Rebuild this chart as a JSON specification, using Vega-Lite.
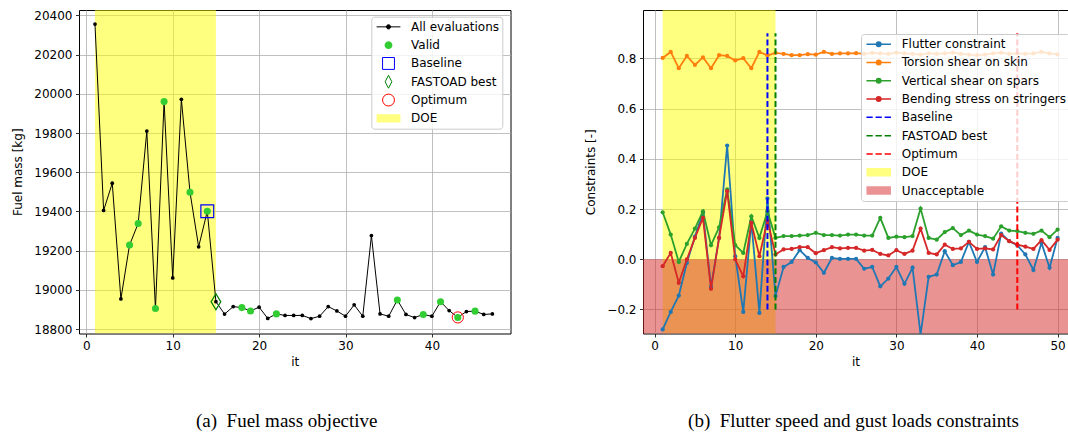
{
  "$schema": "https://vega.github.io/schema/vega-lite/v6.json",
  "background": "white",
  "padding": {"left": 11, "top": 8, "right": 0, "bottom": 5},
  "spacing": 73,
  "config": {
    "font": "DejaVu Sans",
    "view": {"stroke": "black", "strokeWidth": 1},
    "axis": {
      "grid": true, "gridColor": "#b0b0b0", "gridWidth": 0.8, "domain": false,
      "tickColor": "black", "tickSize": 3.5, "tickWidth": 0.8,
      "labelFont": "DejaVu Sans", "labelFontSize": 12, "labelColor": "black", "labelPadding": 3.5,
      "labelFlush": false, "labelOverlap": false,
      "titleFont": "DejaVu Sans", "titleFontSize": 12, "titleFontWeight": "normal", "titleColor": "black",
      "titlePadding": 9, "zindex": 1
    },
    "axisX": {"titlePadding": 5},
    "legend": {
      "labelFont": "DejaVu Sans", "labelFontSize": 12, "labelColor": "black", "labelLimit": 400,
      "symbolSize": 196, "symbolOpacity": 1, "rowPadding": 3.3, "clipHeight": 14.3, "padding": 3, "labelOffset": 15, "symbolOffset": 6.7,
      "strokeColor": "#cccccc", "fillColor": "rgba(255,255,255,0.8)", "cornerRadius": 3
    }
  },
  "resolve": {
    "scale": {"fill": "independent", "stroke": "independent", "shape": "independent", "color": "independent"},
    "legend": {"fill": "independent", "stroke": "independent", "shape": "independent", "color": "independent"}
  },
  "datasets": {
    "fuel": [
      {"it": 1, "mass": 20355, "valid": false},
      {"it": 2, "mass": 19405, "valid": false},
      {"it": 3, "mass": 19544, "valid": false},
      {"it": 4, "mass": 18954, "valid": false},
      {"it": 5, "mass": 19229, "valid": true},
      {"it": 6, "mass": 19339, "valid": true},
      {"it": 7, "mass": 19810, "valid": false},
      {"it": 8, "mass": 18905, "valid": true},
      {"it": 9, "mass": 19960, "valid": true},
      {"it": 10, "mass": 19061, "valid": false},
      {"it": 11, "mass": 19972, "valid": false},
      {"it": 12, "mass": 19498, "valid": true},
      {"it": 13, "mass": 19220, "valid": false},
      {"it": 14, "mass": 19401, "valid": true},
      {"it": 15, "mass": 18940, "valid": false},
      {"it": 16, "mass": 18877, "valid": false},
      {"it": 17, "mass": 18915, "valid": false},
      {"it": 18, "mass": 18910, "valid": true},
      {"it": 19, "mass": 18893, "valid": true},
      {"it": 20, "mass": 18912, "valid": false},
      {"it": 21, "mass": 18855, "valid": false},
      {"it": 22, "mass": 18878, "valid": true},
      {"it": 23, "mass": 18870, "valid": false},
      {"it": 24, "mass": 18870, "valid": false},
      {"it": 25, "mass": 18870, "valid": false},
      {"it": 26, "mass": 18854, "valid": false},
      {"it": 27, "mass": 18866, "valid": false},
      {"it": 28, "mass": 18915, "valid": false},
      {"it": 29, "mass": 18893, "valid": false},
      {"it": 30, "mass": 18866, "valid": false},
      {"it": 31, "mass": 18924, "valid": false},
      {"it": 32, "mass": 18866, "valid": false},
      {"it": 33, "mass": 19277, "valid": false},
      {"it": 34, "mass": 18878, "valid": false},
      {"it": 35, "mass": 18866, "valid": false},
      {"it": 36, "mass": 18949, "valid": true},
      {"it": 37, "mass": 18875, "valid": false},
      {"it": 38, "mass": 18859, "valid": false},
      {"it": 39, "mass": 18875, "valid": true},
      {"it": 40, "mass": 18866, "valid": false},
      {"it": 41, "mass": 18940, "valid": true},
      {"it": 42, "mass": 18895, "valid": false},
      {"it": 43, "mass": 18860, "valid": true},
      {"it": 44, "mass": 18890, "valid": false},
      {"it": 45, "mass": 18892, "valid": true},
      {"it": 46, "mass": 18875, "valid": false},
      {"it": 47, "mass": 18878, "valid": false}
    ],
    "cons": [
      {"it": 1, "flutter": -0.28, "torsion": 0.802, "vertical": 0.187, "bending": -0.028},
      {"it": 2, "flutter": -0.21, "torsion": 0.826, "vertical": 0.098, "bending": 0.025},
      {"it": 3, "flutter": -0.145, "torsion": 0.761, "vertical": -0.011, "bending": -0.094},
      {"it": 4, "flutter": -0.015, "torsion": 0.81, "vertical": 0.061, "bending": -0.001},
      {"it": 5, "flutter": 0.09, "torsion": 0.774, "vertical": 0.122, "bending": 0.085},
      {"it": 6, "flutter": 0.185, "torsion": 0.804, "vertical": 0.191, "bending": 0.165},
      {"it": 7, "flutter": -0.11, "torsion": 0.761, "vertical": 0.056, "bending": -0.118},
      {"it": 8, "flutter": 0.085, "torsion": 0.813, "vertical": 0.127, "bending": 0.085},
      {"it": 9, "flutter": 0.453, "torsion": 0.81, "vertical": 0.278, "bending": 0.271},
      {"it": 10, "flutter": 0.012, "torsion": 0.792, "vertical": 0.056, "bending": -0.001},
      {"it": 11, "flutter": -0.21, "torsion": 0.801, "vertical": 0.025, "bending": -0.068},
      {"it": 12, "flutter": 0.15, "torsion": 0.761, "vertical": 0.171, "bending": 0.145},
      {"it": 13, "flutter": -0.214, "torsion": 0.826, "vertical": 0.085, "bending": 0.012},
      {"it": 14, "flutter": 0.242, "torsion": 0.812, "vertical": 0.191, "bending": 0.154},
      {"it": 15, "flutter": -0.147, "torsion": 0.822, "vertical": 0.085, "bending": 0.019},
      {"it": 16, "flutter": -0.031, "torsion": 0.818, "vertical": 0.092, "bending": 0.039},
      {"it": 17, "flutter": -0.011, "torsion": 0.813, "vertical": 0.092, "bending": 0.041},
      {"it": 18, "flutter": 0.036, "torsion": 0.813, "vertical": 0.094, "bending": 0.048},
      {"it": 19, "flutter": 0.005, "torsion": 0.817, "vertical": 0.096, "bending": 0.048},
      {"it": 20, "flutter": -0.013, "torsion": 0.815, "vertical": 0.105, "bending": 0.024},
      {"it": 21, "flutter": -0.054, "torsion": 0.826, "vertical": 0.096, "bending": 0.036},
      {"it": 22, "flutter": 0.005, "torsion": 0.818, "vertical": 0.096, "bending": 0.048},
      {"it": 23, "flutter": 0.001, "torsion": 0.82, "vertical": 0.094, "bending": 0.043},
      {"it": 24, "flutter": 0.001, "torsion": 0.82, "vertical": 0.098, "bending": 0.045},
      {"it": 25, "flutter": 0.001, "torsion": 0.821, "vertical": 0.098, "bending": 0.045},
      {"it": 26, "flutter": -0.038, "torsion": 0.818, "vertical": 0.094, "bending": 0.034},
      {"it": 27, "flutter": -0.031, "torsion": 0.822, "vertical": 0.094, "bending": 0.037},
      {"it": 28, "flutter": -0.108, "torsion": 0.82, "vertical": 0.165, "bending": 0.021},
      {"it": 29, "flutter": -0.077, "torsion": 0.818, "vertical": 0.085, "bending": 0.015},
      {"it": 30, "flutter": -0.031, "torsion": 0.823, "vertical": 0.09, "bending": 0.036},
      {"it": 31, "flutter": -0.098, "torsion": 0.82, "vertical": 0.088, "bending": 0.021},
      {"it": 32, "flutter": -0.034, "torsion": 0.818, "vertical": 0.092, "bending": 0.034},
      {"it": 33, "flutter": -0.3, "torsion": 0.815, "vertical": 0.202, "bending": 0.122},
      {"it": 34, "flutter": -0.07, "torsion": 0.82, "vertical": 0.085, "bending": 0.025},
      {"it": 35, "flutter": -0.061, "torsion": 0.818, "vertical": 0.078, "bending": 0.019},
      {"it": 36, "flutter": 0.032, "torsion": 0.82, "vertical": 0.108, "bending": 0.058},
      {"it": 37, "flutter": -0.024, "torsion": 0.823, "vertical": 0.124, "bending": 0.041},
      {"it": 38, "flutter": -0.011, "torsion": 0.818, "vertical": 0.096, "bending": 0.043},
      {"it": 39, "flutter": 0.069, "torsion": 0.815, "vertical": 0.114, "bending": 0.069},
      {"it": 40, "flutter": -0.011, "torsion": 0.813, "vertical": 0.098, "bending": 0.041},
      {"it": 41, "flutter": 0.048, "torsion": 0.815, "vertical": 0.092, "bending": 0.043},
      {"it": 42, "flutter": -0.061, "torsion": 0.82, "vertical": 0.082, "bending": 0.039},
      {"it": 43, "flutter": 0.102, "torsion": 0.823, "vertical": 0.131, "bending": 0.096},
      {"it": 44, "flutter": 0.072, "torsion": 0.818, "vertical": 0.114, "bending": 0.072},
      {"it": 45, "flutter": 0.056, "torsion": 0.82, "vertical": 0.112, "bending": 0.058},
      {"it": 46, "flutter": 0.019, "torsion": 0.818, "vertical": 0.105, "bending": 0.05},
      {"it": 47, "flutter": -0.043, "torsion": 0.82, "vertical": 0.101, "bending": 0.041},
      {"it": 48, "flutter": 0.065, "torsion": 0.826, "vertical": 0.114, "bending": 0.076},
      {"it": 49, "flutter": -0.034, "torsion": 0.82, "vertical": 0.088, "bending": 0.037},
      {"it": 50, "flutter": 0.085, "torsion": 0.816, "vertical": 0.118, "bending": 0.078}
    ]
  },
  "hconcat": [
    {
      "width": 431.5,
      "height": 323.5,
      "title": {"text": "(a)\u00a0 Fuel mass objective", "orient": "bottom", "anchor": "middle", "frame": "group", "font": "Liberation Serif", "fontSize": 19, "fontWeight": "normal", "color": "black", "offset": 44, "dx": -8},
      "layer": [
        {
          "data": {"values": [{"start": 1, "end": 15}]},
          "mark": {"type": "rect", "color": "#ffff00", "opacity": 0.5, "clip": true},
          "encoding": {
            "x": {"field": "start", "type": "quantitative", "scale": {"domain": [-0.85, 49.1], "nice": false, "zero": false}, "axis": {"values": [0, 10, 20, 30, 40], "title": "it"}},
            "x2": {"field": "end"}
          }
        },
        {
          "data": {"name": "fuel"},
          "mark": {"type": "line", "color": "#000000", "strokeWidth": 1, "clip": true, "point": {"filled": true, "color": "#000000", "size": 14, "opacity": 1}},
          "encoding": {
            "x": {"field": "it", "type": "quantitative"},
            "y": {"field": "mass", "type": "quantitative", "scale": {"domain": [18778, 20427], "nice": false, "zero": false}, "axis": {"values": [18800, 19000, 19200, 19400, 19600, 19800, 20000, 20200, 20400], "format": "d", "title": "Fuel mass [kg]"}}
          }
        },
        {
          "data": {"name": "fuel"},
          "transform": [{"filter": "datum.valid"}],
          "mark": {"type": "point", "filled": true, "color": "#32cd32", "size": 50, "opacity": 1},
          "encoding": {
            "x": {"field": "it", "type": "quantitative"},
            "y": {"field": "mass", "type": "quantitative"}
          }
        },
        {
          "data": {"name": "fuel"},
          "transform": [{"filter": "datum.it === 14"}],
          "mark": {"type": "point", "shape": "square", "filled": false, "size": 165, "strokeWidth": 1.2, "opacity": 1},
          "encoding": {
            "x": {"field": "it", "type": "quantitative"},
            "y": {"field": "mass", "type": "quantitative"},
            "stroke": {"value": "#0000ff"}
          }
        },
        {
          "data": {"name": "fuel"},
          "transform": [{"filter": "datum.it === 15"}],
          "mark": {"type": "point", "shape": "M0,-1L0.6,0L0,1L-0.6,0Z", "filled": false, "size": 256, "strokeWidth": 1.3, "opacity": 1},
          "encoding": {
            "x": {"field": "it", "type": "quantitative"},
            "y": {"field": "mass", "type": "quantitative"},
            "stroke": {"value": "#008000"}
          }
        },
        {
          "data": {"name": "fuel"},
          "transform": [{"filter": "datum.it === 43"}],
          "mark": {"type": "point", "shape": "circle", "filled": false, "size": 125, "strokeWidth": 1, "opacity": 1},
          "encoding": {
            "x": {"field": "it", "type": "quantitative"},
            "y": {"field": "mass", "type": "quantitative"},
            "stroke": {"value": "#ff0000"}
          }
        },
        {
          "data": {"values": []},
          "mark": {"type": "point", "opacity": 1},
          "encoding": {
            "fill": {"datum": "DOE", "type": "nominal",
              "scale": {"domain": ["All evaluations", "Valid", "Baseline", "FASTOAD best", "Optimum", "DOE"], "range": ["#000000", "#32cd32", "transparent", "transparent", "transparent", "#ffff80"]},
              "legend": {"title": null, "orient": "none", "legendX": 292.3, "legendY": 6.7, "zindex": 2, "symbolStrokeWidth": 1, "symbolOpacity": 1}},
            "stroke": {"datum": "DOE", "type": "nominal",
              "scale": {"domain": ["All evaluations", "Valid", "Baseline", "FASTOAD best", "Optimum", "DOE"], "range": ["#000000", "transparent", "#0000ff", "#008000", "#ff0000", "transparent"]},
              "legend": {"title": null, "orient": "none", "legendX": 292.3, "legendY": 6.7, "zindex": 2, "symbolStrokeWidth": 1, "symbolOpacity": 1}},
            "shape": {"datum": "DOE", "type": "nominal",
              "scale": {"domain": ["All evaluations", "Valid", "Baseline", "FASTOAD best", "Optimum", "DOE"], "range": ["M-1.7,0H1.7M-0.3,0A0.3,0.3 0 1 0 0.3,0A0.3,0.3 0 1 0 -0.3,0Z", "M-0.55,0A0.55,0.55 0 1 0 0.55,0A0.55,0.55 0 1 0 -0.55,0Z", "M-0.85,-0.85H0.85V0.85H-0.85Z", "M0,-0.92L0.48,0L0,0.92L-0.48,0Z", "M-0.85,0A0.85,0.85 0 1 0 0.85,0A0.85,0.85 0 1 0 -0.85,0Z", "M-1.7,-0.6H1.7V0.6H-1.7Z"]},
              "legend": {"title": null, "orient": "none", "legendX": 292.3, "legendY": 6.7, "zindex": 2, "symbolStrokeWidth": 1, "symbolOpacity": 1}}
          }
        }
      ]
    },
    {
      "width": 425,
      "height": 323.5,
      "title": {"text": "(b)\u00a0 Flutter speed and gust loads constraints", "orient": "bottom", "anchor": "middle", "frame": "group", "font": "Liberation Serif", "fontSize": 19, "fontWeight": "normal", "color": "black", "offset": 44, "dx": -2},
      "layer": [
        {
          "data": {"values": [{"start": 1, "end": 15}]},
          "mark": {"type": "rect", "color": "#ffff00", "opacity": 0.5, "clip": true},
          "encoding": {
            "x": {"field": "start", "type": "quantitative", "scale": {"domain": [-1.44, 51.29], "nice": false, "zero": false}, "axis": {"values": [0, 10, 20, 30, 40, 50], "title": "it"}},
            "x2": {"field": "end"}
          }
        },
        {
          "data": {"values": [{"low": -0.3, "high": 0}]},
          "mark": {"type": "rect", "color": "#d62728", "opacity": 0.5, "clip": true},
          "encoding": {
            "y": {"field": "low", "type": "quantitative", "scale": {"domain": [-0.296, 0.993], "nice": false, "zero": false}, "axis": {"values": [-0.2, 0, 0.2, 0.4, 0.6, 0.8], "format": ".1f", "title": "Constraints [-]"}},
            "y2": {"field": "high"}
          }
        },
        {
          "data": {"name": "cons"},
          "mark": {"type": "line", "color": "#1f77b4", "strokeWidth": 1.8, "clip": true, "point": {"filled": true, "color": "#1f77b4", "size": 18, "opacity": 1}},
          "encoding": {
            "x": {"field": "it", "type": "quantitative"},
            "y": {"field": "flutter", "type": "quantitative"}
          }
        },
        {
          "data": {"name": "cons"},
          "mark": {"type": "line", "color": "#ff7f0e", "strokeWidth": 1.8, "clip": true, "point": {"filled": true, "color": "#ff7f0e", "size": 18, "opacity": 1}},
          "encoding": {
            "x": {"field": "it", "type": "quantitative"},
            "y": {"field": "torsion", "type": "quantitative"}
          }
        },
        {
          "data": {"name": "cons"},
          "mark": {"type": "line", "color": "#2ca02c", "strokeWidth": 1.8, "clip": true, "point": {"filled": true, "color": "#2ca02c", "size": 18, "opacity": 1}},
          "encoding": {
            "x": {"field": "it", "type": "quantitative"},
            "y": {"field": "vertical", "type": "quantitative"}
          }
        },
        {
          "data": {"name": "cons"},
          "mark": {"type": "line", "color": "#d62728", "strokeWidth": 1.8, "clip": true, "point": {"filled": true, "color": "#d62728", "size": 18, "opacity": 1}},
          "encoding": {
            "x": {"field": "it", "type": "quantitative"},
            "y": {"field": "bending", "type": "quantitative"}
          }
        },
        {
          "data": {"values": [{"it": 14, "y1": -0.2, "y2": 0.9}]},
          "mark": {"type": "rule", "strokeWidth": 2, "strokeDash": [6, 2.8]},
          "encoding": {
            "x": {"field": "it", "type": "quantitative"},
            "y": {"field": "y1", "type": "quantitative"},
            "y2": {"field": "y2"},
            "stroke": {"value": "#0000ff"}
          }
        },
        {
          "data": {"values": [{"it": 15, "y1": -0.2, "y2": 0.9}]},
          "mark": {"type": "rule", "strokeWidth": 2, "strokeDash": [6, 2.8]},
          "encoding": {
            "x": {"field": "it", "type": "quantitative"},
            "y": {"field": "y1", "type": "quantitative"},
            "y2": {"field": "y2"},
            "stroke": {"value": "#008000"}
          }
        },
        {
          "data": {"values": [{"it": 45, "y1": -0.2, "y2": 0.9}]},
          "mark": {"type": "rule", "strokeWidth": 2, "strokeDash": [6, 2.8]},
          "encoding": {
            "x": {"field": "it", "type": "quantitative"},
            "y": {"field": "y1", "type": "quantitative"},
            "y2": {"field": "y2"},
            "stroke": {"value": "#ff0000"}
          }
        },
        {
          "data": {"values": []},
          "mark": {"type": "point", "opacity": 1},
          "encoding": {
            "fill": {"datum": "DOE", "type": "nominal",
              "scale": {"domain": ["Flutter constraint", "Torsion shear on skin", "Vertical shear on spars", "Bending stress on stringers", "Baseline", "FASTOAD best", "Optimum", "DOE", "Unacceptable"], "range": ["#1f77b4", "#ff7f0e", "#2ca02c", "#d62728", "transparent", "transparent", "transparent", "#ffff80", "#eb9394"]},
              "legend": {"title": null, "orient": "none", "legendX": 218, "legendY": 24, "zindex": 2, "symbolStrokeWidth": 1.5, "symbolOpacity": 1}},
            "stroke": {"datum": "DOE", "type": "nominal",
              "scale": {"domain": ["Flutter constraint", "Torsion shear on skin", "Vertical shear on spars", "Bending stress on stringers", "Baseline", "FASTOAD best", "Optimum", "DOE", "Unacceptable"], "range": ["#1f77b4", "#ff7f0e", "#2ca02c", "#d62728", "#0000ff", "#008000", "#ff0000", "transparent", "transparent"]},
              "legend": {"title": null, "orient": "none", "legendX": 218, "legendY": 24, "zindex": 2, "symbolStrokeWidth": 1.5, "symbolOpacity": 1}},
            "shape": {"datum": "DOE", "type": "nominal",
              "scale": {"domain": ["Flutter constraint", "Torsion shear on skin", "Vertical shear on spars", "Bending stress on stringers", "Baseline", "FASTOAD best", "Optimum", "DOE", "Unacceptable"], "range": ["M-1.75,0H1.75M-0.32,0A0.32,0.32 0 1 0 0.32,0A0.32,0.32 0 1 0 -0.32,0Z", "M-1.75,0H1.75M-0.32,0A0.32,0.32 0 1 0 0.32,0A0.32,0.32 0 1 0 -0.32,0Z", "M-1.75,0H1.75M-0.32,0A0.32,0.32 0 1 0 0.32,0A0.32,0.32 0 1 0 -0.32,0Z", "M-1.75,0H1.75M-0.32,0A0.32,0.32 0 1 0 0.32,0A0.32,0.32 0 1 0 -0.32,0Z", "M-1.75,0H-0.85M-0.45,0H0.45M0.85,0H1.75", "M-1.75,0H-0.85M-0.45,0H0.45M0.85,0H1.75", "M-1.75,0H-0.85M-0.45,0H0.45M0.85,0H1.75", "M-1.75,-0.6H1.75V0.6H-1.75Z", "M-1.75,-0.6H1.75V0.6H-1.75Z"]},
              "legend": {"title": null, "orient": "none", "legendX": 218, "legendY": 24, "zindex": 2, "symbolStrokeWidth": 1.5, "symbolOpacity": 1}}
          }
        }
      ]
    }
  ]
}
